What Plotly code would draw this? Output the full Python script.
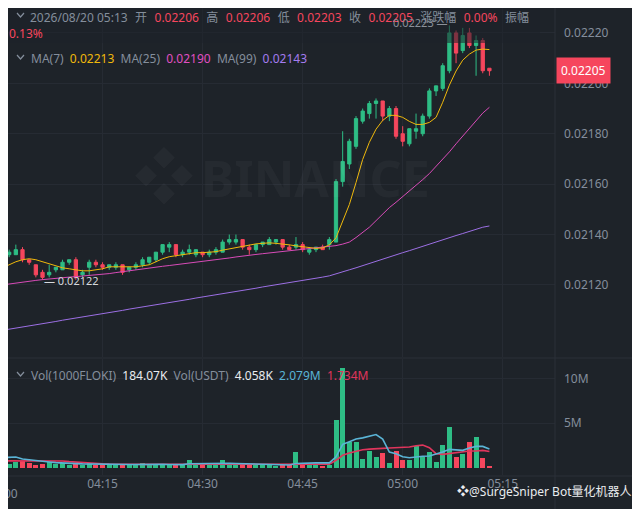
import pandas as pd
import plotly.graph_objects as go

# 1-minute candles, 04:00 .. 05:13
opens = [0.02126, 0.02132, 0.02132, 0.02134, 0.02130, 0.02128, 0.02125, 0.02124, 0.02126, 0.02126,
         0.02129, 0.02130, 0.02124, 0.02127, 0.02129, 0.02128, 0.02127, 0.02127, 0.02128, 0.02126,
         0.02127, 0.02128, 0.02129, 0.02130, 0.02133, 0.02135, 0.02136, 0.02132, 0.02133, 0.02132,
         0.02133, 0.02132, 0.02133, 0.02133, 0.02137, 0.02137, 0.02138, 0.02135, 0.02134, 0.02136,
         0.02136, 0.02137, 0.02138, 0.02135, 0.02135, 0.02136, 0.02133, 0.02134, 0.02135, 0.02136,
         0.02137, 0.02161, 0.02168, 0.02175, 0.02185, 0.02188, 0.02192, 0.02193, 0.02187, 0.02190,
         0.02180, 0.02176, 0.02181, 0.02180, 0.02187, 0.02197, 0.02198, 0.02205, 0.02220, 0.02213,
         0.02220, 0.02215, 0.02217, 0.02206]
highs = [0.02134, 0.02134, 0.02136, 0.02135, 0.02130, 0.02128, 0.02126, 0.02128, 0.02127, 0.02130,
         0.02130, 0.02131, 0.02126, 0.02130, 0.02130, 0.02129, 0.02128, 0.02129, 0.02128, 0.02127,
         0.02129, 0.02131, 0.02131, 0.02133, 0.02136, 0.02137, 0.02136, 0.02134, 0.02136, 0.02134,
         0.02133, 0.02134, 0.02135, 0.02138, 0.02140, 0.02140, 0.02138, 0.02136, 0.02136, 0.02137,
         0.02139, 0.02138, 0.02138, 0.02136, 0.02139, 0.02137, 0.02135, 0.02135, 0.02136, 0.02139,
         0.02162, 0.02181, 0.02178, 0.02187, 0.02190, 0.02193, 0.02194, 0.02193, 0.02191, 0.02191,
         0.02183, 0.02182, 0.02188, 0.02188, 0.02198, 0.02199, 0.02208, 0.02223, 0.02221, 0.02222,
         0.02222, 0.02219, 0.02218, 0.02206]
lows = [0.02125, 0.02131, 0.02132, 0.02129, 0.02128, 0.02123, 0.02122, 0.02123, 0.02125, 0.02126,
        0.02128, 0.02122, 0.02123, 0.02124, 0.02127, 0.02126, 0.02126, 0.02126, 0.02124, 0.02125,
        0.02126, 0.02127, 0.02128, 0.02129, 0.02132, 0.02133, 0.02131, 0.02131, 0.02132, 0.02131,
        0.02131, 0.02131, 0.02132, 0.02133, 0.02136, 0.02136, 0.02134, 0.02132, 0.02133, 0.02135,
        0.02136, 0.02136, 0.02134, 0.02134, 0.02134, 0.02133, 0.02132, 0.02133, 0.02134, 0.02134,
        0.02137, 0.02159, 0.02166, 0.02174, 0.02184, 0.02186, 0.02186, 0.02185, 0.02185, 0.02178,
        0.02175, 0.02175, 0.02178, 0.02179, 0.02186, 0.02195, 0.02197, 0.02204, 0.02208, 0.02212,
        0.02214, 0.02203, 0.02204, 0.02203]
closes = [0.02133, 0.02133, 0.02134, 0.02130, 0.02129, 0.02124, 0.02123, 0.02125, 0.02127, 0.02129,
          0.02130, 0.02123, 0.02125, 0.02129, 0.02128, 0.02127, 0.02128, 0.02128, 0.02125, 0.02127,
          0.02128, 0.02130, 0.02131, 0.02133, 0.02136, 0.02136, 0.02132, 0.02133, 0.02134, 0.02134,
          0.02132, 0.02133, 0.02134, 0.02137, 0.02138, 0.02138, 0.02135, 0.02134, 0.02136, 0.02137,
          0.02138, 0.02138, 0.02135, 0.02134, 0.02136, 0.02134, 0.02134, 0.02135, 0.02134, 0.02138,
          0.02161, 0.02169, 0.02177, 0.02186, 0.02189, 0.02192, 0.02193, 0.02187, 0.02190, 0.02179,
          0.02177, 0.02182, 0.02182, 0.02187, 0.02197, 0.02199, 0.02207, 0.02220, 0.02212, 0.02219,
          0.02215, 0.02217, 0.02205, 0.02205]

ma7 = [0.021268, 0.021280, 0.021292, 0.021300, 0.021304, 0.021300, 0.021292, 0.021284, 0.021276, 0.021268,
       0.021264, 0.021260, 0.021256, 0.021256, 0.021260, 0.021264, 0.021272, 0.021272, 0.021272, 0.021272,
       0.021272, 0.021276, 0.021280, 0.021292, 0.021304, 0.021312, 0.021316, 0.021320, 0.021324, 0.021328,
       0.021328, 0.021330, 0.021332, 0.021338, 0.021343, 0.021349, 0.021355, 0.021359, 0.021363, 0.021365,
       0.021367, 0.021365, 0.021363, 0.021359, 0.021355, 0.021351, 0.021347, 0.021345, 0.021347, 0.021359,
       0.021387, 0.021451, 0.021519, 0.021606, 0.021698, 0.021766, 0.021818, 0.021853, 0.021873, 0.021873,
       0.021865, 0.021849, 0.021837, 0.021837, 0.021845, 0.021865, 0.021925, 0.021993, 0.022049, 0.022092,
       0.022116, 0.022132, 0.022136, 0.022134]
ma25 = [0.021200, 0.021204, 0.021208, 0.021212, 0.021215, 0.021218, 0.021221, 0.021224, 0.021227, 0.021229,
        0.021231, 0.021233, 0.021235, 0.021237, 0.021240, 0.021242, 0.021245, 0.021249, 0.021253, 0.021257,
        0.021261, 0.021265, 0.021268, 0.021271, 0.021274, 0.021277, 0.021280, 0.021283, 0.021286, 0.021289,
        0.021292, 0.021296, 0.021300, 0.021303, 0.021307, 0.021311, 0.021315, 0.021318, 0.021321, 0.021324,
        0.021327, 0.021330, 0.021333, 0.021336, 0.021339, 0.021342, 0.021345, 0.021347, 0.021350, 0.021352,
        0.021356, 0.021362, 0.021370, 0.021388, 0.021408, 0.021429, 0.021455, 0.021481, 0.021507, 0.021528,
        0.021550, 0.021571, 0.021595, 0.021618, 0.021642, 0.021670, 0.021699, 0.021728, 0.021760, 0.021791,
        0.021823, 0.021852, 0.021882, 0.021905]
ma99 = [0.021020, 0.021024, 0.021029, 0.021033, 0.021038, 0.021042, 0.021046, 0.021051, 0.021055, 0.021060,
        0.021064, 0.021068, 0.021073, 0.021077, 0.021082, 0.021086, 0.021090, 0.021095, 0.021099, 0.021104,
        0.021108, 0.021112, 0.021117, 0.021121, 0.021126, 0.021130, 0.021134, 0.021139, 0.021143, 0.021148,
        0.021152, 0.021156, 0.021161, 0.021165, 0.021170, 0.021174, 0.021178, 0.021183, 0.021187, 0.021192,
        0.021196, 0.021200, 0.021205, 0.021209, 0.021214, 0.021218, 0.021222, 0.021227, 0.021231, 0.021236,
        0.021243, 0.021251, 0.021260, 0.021268, 0.021277, 0.021285, 0.021294, 0.021302, 0.021311, 0.021319,
        0.021328, 0.021336, 0.021345, 0.021353, 0.021362, 0.021370, 0.021379, 0.021387, 0.021396, 0.021404,
        0.021413, 0.021421, 0.021429, 0.021434]

# volume in millions (1000FLOKI)
volumes = [1.50, 0.37, 0.60, 0.75, 0.50, 0.30, 0.40, 0.60, 0.40, 0.50,
           0.30, 0.50, 0.30, 0.50, 0.30, 0.25, 0.30, 0.30, 0.40, 0.25,
           0.30, 0.50, 0.30, 0.40, 0.30, 0.30, 0.40, 0.25, 0.90, 0.30,
           0.30, 0.50, 0.30, 0.85, 0.40, 0.30, 0.40, 0.30, 0.30, 0.25,
           0.30, 0.20, 0.30, 0.30, 1.70, 0.50, 0.30, 0.30, 0.15, 0.26,
           5.33, 11.20, 2.90, 2.90, 0.93, 1.85, 1.20, 1.63, 0.52, 1.85,
           0.90, 0.90, 2.37, 1.20, 1.74, 0.63, 2.48, 4.60, 1.20, 1.48,
           2.85, 3.48, 1.07, 0.18]
vol_ma5 = [1.12, 1.15, 1.18, 0.95, 0.85, 0.78, 0.72, 0.62, 0.55, 0.49,
           0.46, 0.44, 0.41, 0.39, 0.37, 0.36, 0.35, 0.34, 0.35, 0.34,
           0.34, 0.36, 0.36, 0.37, 0.36, 0.34, 0.34, 0.33, 0.42, 0.44,
           0.43, 0.45, 0.44, 0.50, 0.48, 0.46, 0.44, 0.40, 0.34, 0.32,
           0.31, 0.29, 0.28, 0.28, 0.45, 0.50, 0.52, 0.52, 0.52, 0.52,
           1.20, 2.60, 2.90, 3.20, 3.33, 3.50, 3.70, 3.20, 1.74, 1.55,
           1.20, 1.10, 1.20, 1.26, 1.30, 1.48, 1.74, 2.04, 2.00, 1.93,
           2.19, 2.37, 2.37, 2.08]
vol_ma10 = [0.75, 0.75, 0.76, 0.76, 0.75, 0.75, 0.75, 0.74, 0.74, 0.73,
            0.66, 0.60, 0.55, 0.50, 0.45, 0.42, 0.39, 0.37, 0.36, 0.35,
            0.35, 0.35, 0.35, 0.36, 0.36, 0.36, 0.35, 0.35, 0.38, 0.39,
            0.39, 0.40, 0.40, 0.42, 0.42, 0.41, 0.40, 0.38, 0.37, 0.36,
            0.35, 0.34, 0.34, 0.34, 0.40, 0.42, 0.42, 0.42, 0.40, 0.38,
            0.81, 1.37, 1.63, 1.85, 2.00, 2.07, 2.15, 2.15, 2.19, 2.22,
            2.22, 2.30, 2.44, 2.52, 2.22, 1.56, 1.48, 1.56, 1.70, 1.78,
            1.85, 1.85, 1.93, 1.80]

price_ticks = [0.02120, 0.02140, 0.02160, 0.02180, 0.02200, 0.02220]
vol_ticks = [5, 10]
vol_tick_labels = ["5M", "10M"]

times = pd.date_range("2026-08-20 04:00", periods=len(closes), freq="min")

UP = "#2ebd85"
DOWN = "#f6465d"
BG = "#1e2329"
GRID = "#262b33"
TXT = "#848e9c"
FONT = "Noto Sans, Noto Sans CJK SC, sans-serif"

vol_colors = [UP if c >= o else DOWN for o, c in zip(opens, closes)]

fig = go.Figure()

fig.add_trace(go.Candlestick(
    x=times, open=opens, high=highs, low=lows, close=closes,
    xaxis="x2", yaxis="y",
    increasing=dict(line=dict(color=UP, width=1), fillcolor=UP),
    decreasing=dict(line=dict(color=DOWN, width=1), fillcolor=DOWN),
    whiskerwidth=0, showlegend=False, hoverinfo="skip",
))
for vals, col in [(ma99, "#9c6fe4"), (ma25, "#d84bb8"), (ma7, "#f0b90b")]:
    fig.add_trace(go.Scatter(x=times, y=vals, mode="lines", xaxis="x2", yaxis="y",
                             line=dict(color=col, width=1), showlegend=False, hoverinfo="skip"))

fig.add_trace(go.Bar(x=times, y=volumes, marker=dict(color=vol_colors, line=dict(width=0)),
                     width=45000, xaxis="x", yaxis="y2", showlegend=False, hoverinfo="skip"))
fig.add_trace(go.Scatter(x=times, y=vol_ma10, mode="lines", xaxis="x", yaxis="y2",
                         line=dict(color="#e0355c", width=1.6), showlegend=False, hoverinfo="skip"))
fig.add_trace(go.Scatter(x=times, y=vol_ma5, mode="lines", xaxis="x", yaxis="y2",
                         line=dict(color="#5ab4d6", width=1.6), showlegend=False, hoverinfo="skip"))

# the page draws the figure 8px in from the window corner, so the layout is laid out
# in window pixels and shifted back by that offset
OFF = 8
PW = 555 - OFF   # plot width
PH = 475 - OFF   # plot height


def px(x):
    return (x - OFF) / PW


def py(y):
    return 1 - (y - OFF) / PH


x_range = ["2026-08-20 04:00:49.5", "2026-08-20 05:22:50"]

fig.update_layout(
    width=640, height=509,
    margin=dict(l=0, r=640 - PW, t=0, b=509 - PH, autoexpand=False),
    paper_bgcolor=BG, plot_bgcolor=BG,
    font=dict(family=FONT, size=12, color=TXT),
    bargap=0,
    xaxis=dict(domain=[0, 1], anchor="y2", range=x_range, type="date", automargin=False,
               tick0="2026-08-20 04:00", dtick=900000, tickformat="%H:%M",
               showgrid=True, gridcolor=GRID, zeroline=False, ticks="",
               showline=False, rangeslider=dict(visible=False),
               tickfont=dict(size=12, color=TXT)),
    xaxis2=dict(domain=[0, 1], anchor="y", matches="x", type="date", automargin=False,
                tick0="2026-08-20 04:00", dtick=900000,
                showticklabels=False, showgrid=True, gridcolor=GRID, zeroline=False,
                rangeslider=dict(visible=False)),
    yaxis=dict(domain=[py(357), 1], anchor="x2", side="right", automargin=False,
               range=[0.020914, 0.022299], tickvals=price_ticks,
               ticktext=[f"{v:.5f}" for v in price_ticks],
               showgrid=True, gridcolor=GRID, zeroline=False, ticks="",
               ticklabelstandoff=8, tickfont=dict(size=12, color=TXT)),
    yaxis2=dict(domain=[0, py(359)], anchor="x", side="right", automargin=False,
                range=[-0.84, 12.19], tickvals=vol_ticks, ticktext=vol_tick_labels,
                showgrid=True, gridcolor=GRID, zeroline=False, ticks="",
                ticklabelstandoff=8, tickfont=dict(size=12, color=TXT)),
)


def chevron(xc, yc):
    return dict(type="path", xref="paper", yref="paper",
                path=f"M {px(xc - 3.5)} {py(yc - 2)} L {px(xc)} {py(yc + 2)} L {px(xc + 3.5)} {py(yc - 2)}",
                line=dict(color=TXT, width=1.2), layer="above")


shapes = [
    # legend backdrop that dims the top of the candles
    dict(type="rect", xref="paper", yref="paper", x0=px(0), x1=px(540), y0=py(43), y1=py(0),
         fillcolor="rgba(30,35,41,0.55)", line=dict(width=0), layer="above"),
    dict(type="line", xref="paper", yref="paper", x0=px(0), x1=px(650), y0=py(358), y1=py(358),
         line=dict(color="#2b3139", width=1)),
    dict(type="line", xref="paper", yref="paper", x0=px(0), x1=px(650), y0=py(476), y1=py(476),
         line=dict(color="#2b3139", width=1)),
    dict(type="line", xref="paper", yref="paper", x0=1, x1=1, y0=py(520), y1=py(0),
         line=dict(color="#2b3139", width=1)),
    chevron(20.5, 15), chevron(20.5, 57), chevron(20.5, 374),
]
fig.update_layout(shapes=shapes)

G = TXT
R = DOWN
GAP = "\u00a0\u00a0\u200a"
GAP2 = "\u00a0\u00a0"


def sp(t, c):
    return f"<span style='color:{c}'>{t}</span>"


row1 = (sp("2026/08/20 05:13" + GAP + "开" + GAP, G) + sp("0.02206", R)
        + sp(GAP + "高" + GAP, G) + sp("0.02206", R)
        + sp(GAP + "低" + GAP, G) + sp("0.02203", R)
        + sp(GAP + "收" + GAP, G) + sp("0.02205", R)
        + sp(GAP + "涨跌幅" + GAP, G) + sp("0.00%", R) + sp(GAP + "振幅", G))
row_ma = (sp("MA(7)" + GAP2, G) + sp("0.02213", "#f0b90b")
          + sp(GAP2 + "MA(25)" + GAP2, G) + sp("0.02190", "#e04fc2")
          + sp(GAP2 + "MA(99)" + GAP2, G) + sp("0.02143", "#a47cf0"))
row_vol = (sp("Vol(1000FLOKI)" + GAP2, G) + sp("184.07K", "#eaecef")
           + sp(GAP2 + "Vol(USDT)" + GAP2, G) + sp("4.058K", "#eaecef")
           + sp(GAP2 + "2.079M", "#5ab4d6") + sp(GAP2 + "1.734M", "#e0355c"))

ann = []


def add_text(text, xpx, ypx, size=12, color=TXT, anchor="left", **kw):
    ann.append(dict(text=text, x=px(xpx), y=py(ypx), xref="paper", yref="paper",
                    xanchor=anchor, yanchor="middle", showarrow=False,
                    font=dict(size=size, color=color, **kw)))


add_text(row1, 28, 17)
add_text(sp("0.13%", R), 7, 34)
add_text(row_ma, 29, 58)
add_text(row_vol, 29, 375)
# first time label sits half outside the plot edge
add_text("04:00", 2.5, 493, anchor="center")

# extreme price markers
ann.append(dict(text="0.02223 —", x=times[67], y=highs[67], xref="x2", yref="y",
                xanchor="right", yanchor="middle", showarrow=False, xshift=1, yshift=3,
                font=dict(size=11, color="#8a9099")))
ann.append(dict(text="— 0.02122", x=times[6], y=lows[6], xref="x2", yref="y",
                xanchor="left", yanchor="middle", showarrow=False, xshift=-1, yshift=-1,
                font=dict(size=11, color="#d5d8dc")))

# last price tag
ann.append(dict(text="0.02205", x=1, y=closes[-1], xref="paper", yref="y",
                xanchor="left", yanchor="middle", showarrow=False, xshift=1,
                bgcolor=DOWN, borderpad=4, font=dict(size=12, color="#ffffff")))

# watermarks
add_text("❖", 164, 176, size=60, color="rgba(255,255,255,0.035)", anchor="center")
add_text("<b>BINANCE</b>", 315, 178, size=50, color="rgba(255,255,255,0.035)",
         anchor="center", family="Noto Sans")
add_text("❖@SurgeSniper Bot量化机器人", 455, 491, size=12, color="#eaecef")

fig.update_layout(annotations=ann)

fig.write_html("out.html")
